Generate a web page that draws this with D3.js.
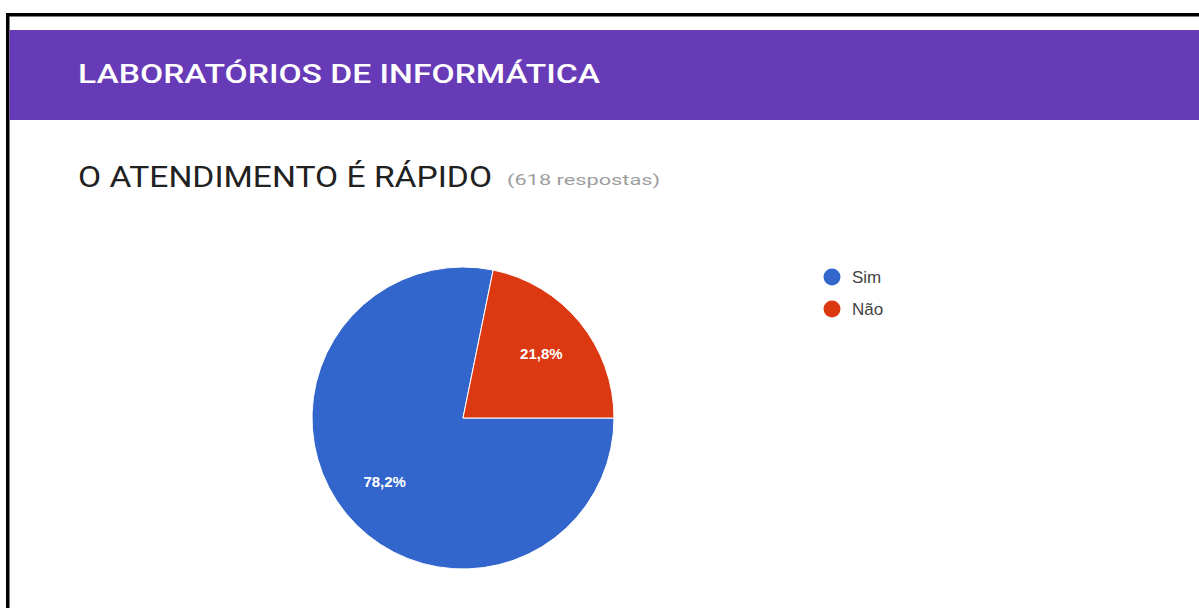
<!DOCTYPE html>
<html><head><meta charset="utf-8">
<script src="https://cdn.jsdelivr.net/npm/d3@7"></script>
<style>html,body{margin:0;padding:0;background:#fff;overflow:hidden}svg{display:block}</style>
</head><body>
<script>
const header = "LABORATÓRIOS DE INFORMÁTICA";
const question = "O ATENDIMENTO É RÁPIDO";
const responses = "(618 respostas)";
const categories = ["Sim", "Não"];
const values = [78.2, 21.8];
const colors = ["#3366cc", "#dc3912"];

const W = 1199, H = 608;
const svg = d3.select("body").append("svg").attr("width", W).attr("height", H);
svg.append("rect").attr("width", W).attr("height", H).attr("fill", "#fff");

// frame (top and left edges)
svg.append("rect").attr("x", 6).attr("y", 13).attr("width", W - 6).attr("height", 3.5).attr("fill", "#000");
svg.append("rect").attr("x", 6).attr("y", 13).attr("width", 3.5).attr("height", H - 13).attr("fill", "#000");
// header bar
svg.append("rect").attr("x", 9.5).attr("y", 30).attr("width", W - 9.5).attr("height", 90).attr("fill", "#673ab7");
svg.append("text").attr("x", 78).attr("y", 83).text(header)
  .attr("font-family", "Roboto").attr("font-weight", 500).attr("font-size", 25)
  .attr("fill", "#fff").attr("textLength", 522).attr("lengthAdjust", "spacingAndGlyphs");

svg.append("text").attr("x", 78).attr("y", 187)
  .attr("font-family", "Roboto").attr("font-size", 29).attr("fill", "#212121")
  .attr("textLength", 414).attr("lengthAdjust", "spacingAndGlyphs").text(question);
svg.append("text").attr("x", 507).attr("y", 185).text(responses)
  .attr("font-family", "Roboto").attr("font-size", 14).attr("fill", "#9e9e9e")
  .attr("textLength", 153).attr("lengthAdjust", "spacingAndGlyphs");

// pie
const cx = 463, cy = 418, R = 151;
const data = categories.map((c, i) => ({cat: c, v: values[i], color: colors[i]}));
const pie = d3.pie().value(d => d.v).sort(null)
  .startAngle(Math.PI / 2).endAngle(Math.PI / 2 + 2 * Math.PI);
const arc = d3.arc().innerRadius(0).outerRadius(R);
const labelArc = d3.arc().innerRadius(R * 0.67).outerRadius(R * 0.67);
const g = svg.append("g").attr("transform", `translate(${cx},${cy})`);
const arcs = pie(data);
g.selectAll("path").data(arcs).join("path")
  .attr("d", arc).attr("fill", d => d.data.color)
  .attr("stroke", "#fff").attr("stroke-width", 1);
g.selectAll("text").data(arcs).join("text")
  .attr("transform", d => `translate(${labelArc.centroid(d)})`)
  .attr("text-anchor", "middle").attr("dy", "0.35em")
  .attr("font-family", "Arial, Liberation Sans").attr("font-size", 15).attr("font-weight", "bold")
  .attr("fill", "#fff")
  .text(d => d.data.v.toFixed(1).replace(".", ",") + "%");

// legend
const lg = svg.append("g").attr("transform", "translate(832,277)");
const items = lg.selectAll("g").data(data).join("g")
  .attr("transform", (d, i) => `translate(0,${i * 32})`);
items.append("circle").attr("r", 8.5).attr("fill", d => d.color);
items.append("text").attr("x", 20).attr("dy", "0.36em")
  .attr("font-family", "Arial, Liberation Sans").attr("font-size", 17).attr("fill", "#444")
  .text(d => d.cat);
</script>
</body></html>
